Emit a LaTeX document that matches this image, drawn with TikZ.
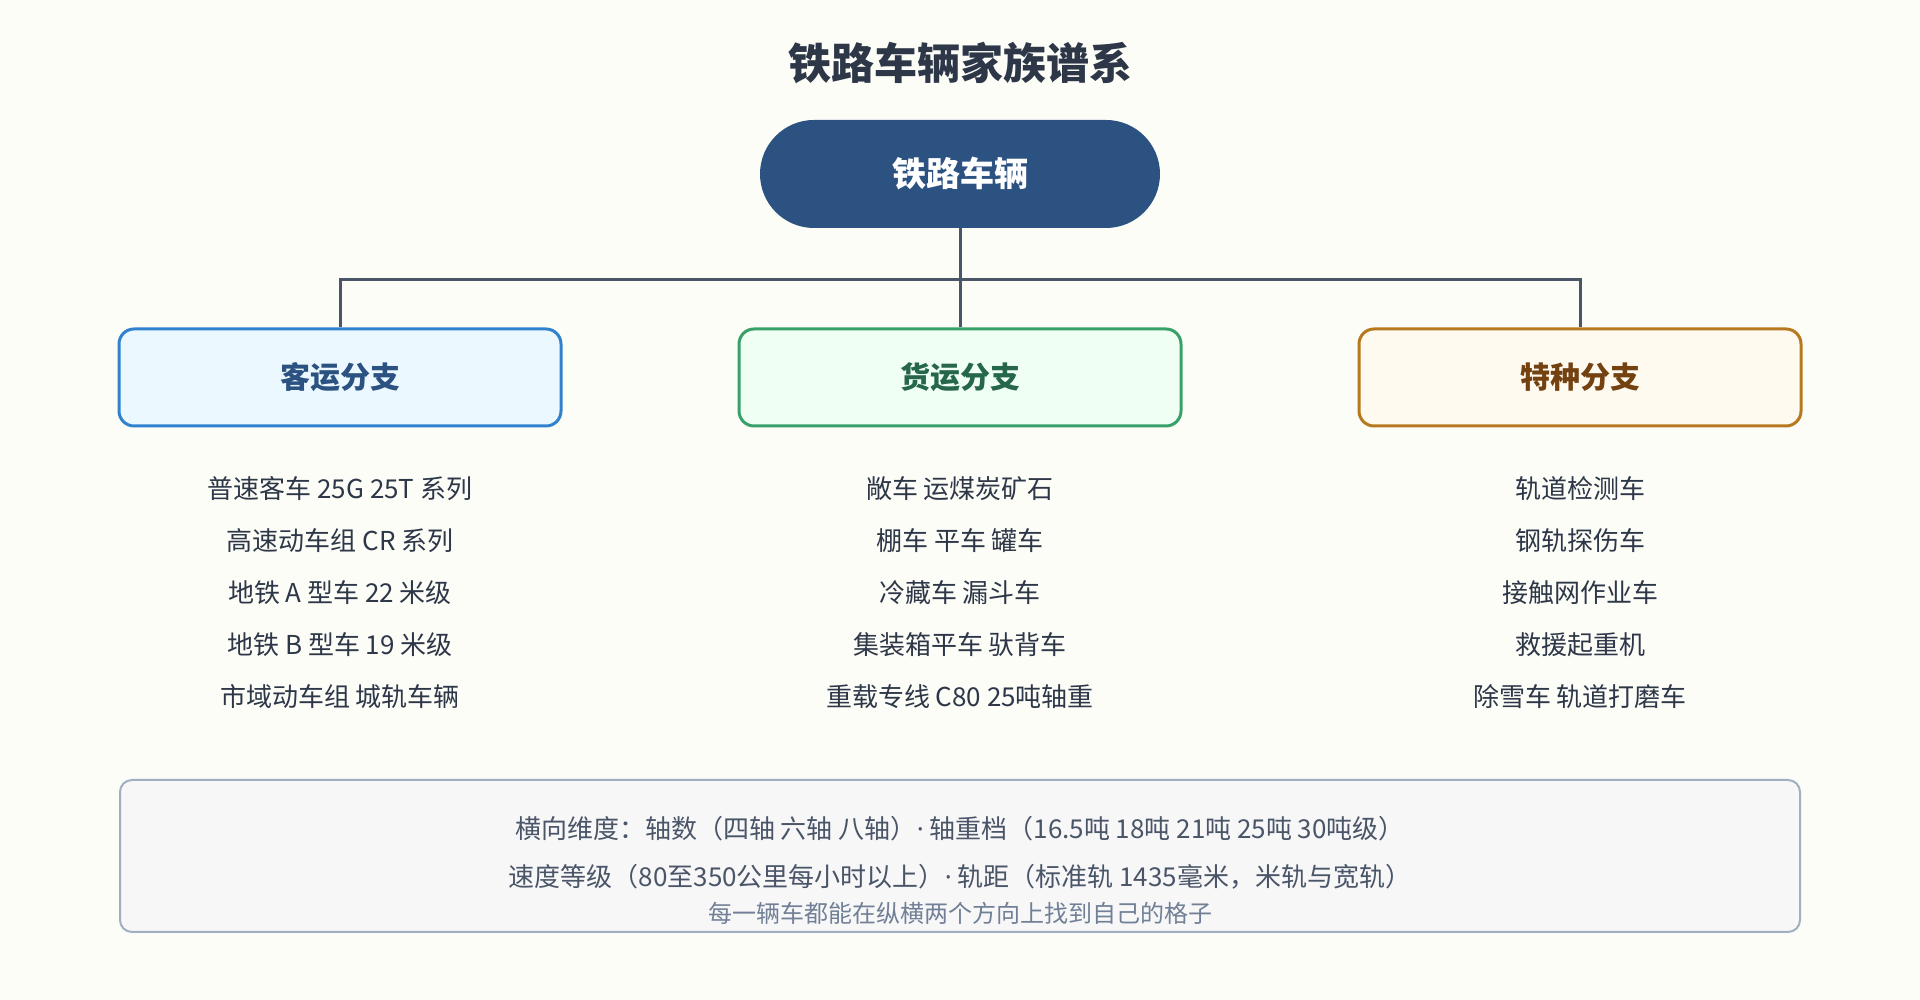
\documentclass[tikz,border=0pt]{standalone}
\usepackage{fontspec}
\setmainfont{Noto Sans CJK SC}
\newfontfamily\dotfont{Noto Sans}
\usepackage{xcolor}

\definecolor{bgcream}{HTML}{FDFDF8}
\definecolor{inkdark}{HTML}{2D3748}
\definecolor{rootblue}{HTML}{2C5282}
\definecolor{linkgray}{HTML}{4A5568}
\definecolor{passline}{HTML}{3182CE}
\definecolor{passfill}{HTML}{EBF8FF}
\definecolor{passtext}{HTML}{2C5282}
\definecolor{freightline}{HTML}{38A169}
\definecolor{freightfill}{HTML}{F0FFF4}
\definecolor{freighttext}{HTML}{276749}
\definecolor{specialline}{HTML}{B7791F}
\definecolor{specialfill}{HTML}{FFFAF0}
\definecolor{specialtext}{HTML}{744210}
\definecolor{notefill}{HTML}{F7F7F8}
\definecolor{noteline}{HTML}{A0AEC0}
\definecolor{notesoft}{HTML}{718096}

\newcommand{\middot}{{\dotfont ·}}

\begin{document}
\begin{tikzpicture}[x=1pt, y=1pt,
  branch/.style={draw, line width=3pt, rounded corners=15pt, minimum width=442pt, minimum height=97pt, inner sep=0pt, font=\fontsize{30}{34}\selectfont\bfseries},
  item/.style={inner sep=0pt, text=inkdark, font=\fontsize{26}{30}\selectfont},
  link/.style={draw=linkgray, line width=3pt}]
\fill[bgcream] (0,0) rectangle (1920,1000);
\useasboundingbox (0,0) rectangle (1920,1000);

% Title
\node[text=inkdark, font=\fontsize{43}{48}\selectfont\bfseries] (title) at (960,937) {铁路车辆家族谱系};

% Root
\node[fill=rootblue, rounded corners=54pt, minimum width=400pt, minimum height=108pt, inner sep=0pt, text=white, font=\fontsize{34}{38}\selectfont\bfseries] (root) at (960,826) {铁路车辆};

% Branches
\node[branch, draw=passline, fill=passfill, text=passtext] (pass) at (340,622.5) {\raisebox{-3pt}{客运分支}};
\node[branch, draw=freightline, fill=freightfill, text=freighttext] (freight) at (960,622.5) {\raisebox{-3pt}{货运分支}};
\node[branch, draw=specialline, fill=specialfill, text=specialtext] (special) at (1580,622.5) {\raisebox{-3pt}{特种分支}};

% Connectors
\coordinate (hub) at (960,720);
\draw[link] (root.south) -- (hub);
\draw[link] (hub) -| (pass.north);
\draw[link] (hub) -| (special.north);
\draw[link] (hub) -- (freight.north);

% Passenger items
\node[item] (pass1) at (340,511) {普速客车 25G 25T 系列};
\node[item] (pass2) at (340,459) {高速动车组 CR 系列};
\node[item] (pass3) at (340,407) {地铁 A 型车 22 米级};
\node[item] (pass4) at (340,355) {地铁 B 型车 19 米级};
\node[item] (pass5) at (340,303) {市域动车组 城轨车辆};

% Freight items
\node[item] (freight1) at (960,511) {敞车 运煤炭矿石};
\node[item] (freight2) at (960,459) {棚车 平车 罐车};
\node[item] (freight3) at (960,407) {冷藏车 漏斗车};
\node[item] (freight4) at (960,355) {集装箱平车 驮背车};
\node[item] (freight5) at (960,303) {重载专线 C80 25吨轴重};

% Special items
\node[item] (special1) at (1580,511) {轨道检测车};
\node[item] (special2) at (1580,459) {钢轨探伤车};
\node[item] (special3) at (1580,407) {接触网作业车};
\node[item] (special4) at (1580,355) {救援起重机};
\node[item] (special5) at (1580,303) {除雪车 轨道打磨车};

% Note box
\draw[fill=notefill, draw=noteline, line width=2pt, rounded corners=12pt] (120,68) rectangle (1800,220);
\node[item, text=linkgray] (note1) at (960,171) {横向维度：轴数（四轴 六轴 八轴）\middot{} 轴重档（16.5吨 18吨 21吨 25吨 30吨级）};
\node[item, text=linkgray] (note2) at (960,123) {速度等级（80至350公里每小时以上）\middot{} 轨距（标准轨 1435毫米，米轨与宽轨）};
\node[item, text=notesoft, font=\fontsize{24}{28}\selectfont] (note3) at (960,87) {每一辆车都能在纵横两个方向上找到自己的格子};
\end{tikzpicture}
\end{document}
